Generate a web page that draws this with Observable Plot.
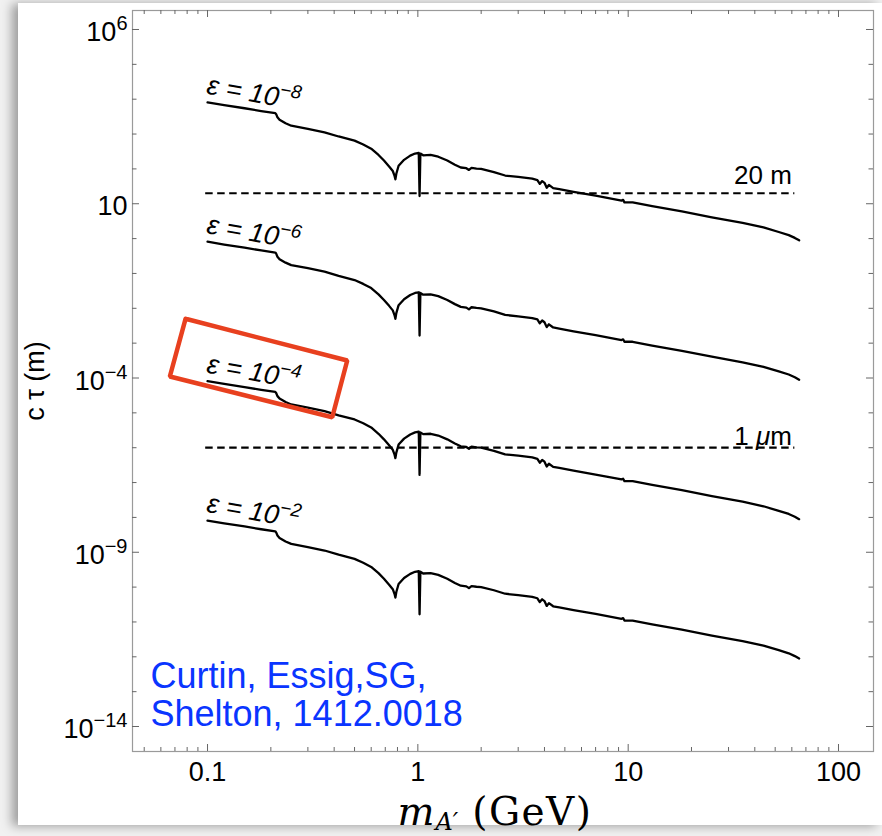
<!DOCTYPE html>
<html><head><meta charset="utf-8">
<script src="https://cdn.jsdelivr.net/npm/d3@7"></script>
<script src="https://cdn.jsdelivr.net/npm/@observablehq/plot@0.6"></script>
<style>
html,body{margin:0;padding:0;}
body{width:882px;height:836px;position:relative;overflow:hidden;background:#f1f1f1;}
#panel{position:absolute;left:18px;top:3px;width:864px;height:822px;background:#fff;box-shadow:-6px 1px 10px rgba(0,0,0,0.35);}
#chart{position:absolute;left:0;top:0;}
</style></head><body>
<div id="panel"></div><div id="chart"></div>
<script>
// ---- data ----
const massGeV = [0.1,0.12,0.15,0.18,0.21,0.212,0.215,0.22,0.235,0.25,0.3,0.36,0.42,0.5,0.55,0.6,0.65,0.69,0.73,0.76,0.775,0.782,0.79,0.81,0.86,0.92,0.97,1.01,1.019,1.028,1.06,1.15,1.25,1.38,1.5,1.6,1.7,1.75,1.8,1.9,2.0,2.3,2.6,3.0,3.5,3.7,3.8,3.9,4.0,4.1,4.2,4.4,4.7,5.5,7,9.3,9.46,9.6,10.5,13,18,25,35,44,52,58,62,65];
const log10CtauEps1e8 = [3.91,3.83,3.74,3.66,3.60,3.57,3.48,3.41,3.31,3.24,3.15,3.05,2.93,2.81,2.70,2.58,2.40,2.24,2.07,1.94,1.80,1.70,1.86,2.09,2.26,2.38,2.44,2.46,1.22,2.44,2.39,2.40,2.35,2.24,2.12,2.04,2.02,1.97,2.03,2.01,2.00,1.91,1.81,1.77,1.72,1.68,1.57,1.65,1.60,1.46,1.54,1.45,1.42,1.34,1.23,1.09,1.11,1.04,1.04,0.93,0.78,0.61,0.45,0.32,0.19,0.10,0.02,-0.05];
const log10CtauEps1e6 = [-0.09,-0.17,-0.26,-0.34,-0.40,-0.43,-0.52,-0.59,-0.69,-0.76,-0.85,-0.95,-1.07,-1.19,-1.30,-1.42,-1.60,-1.76,-1.93,-2.06,-2.20,-2.30,-2.14,-1.91,-1.74,-1.62,-1.56,-1.54,-2.78,-1.56,-1.61,-1.60,-1.65,-1.76,-1.88,-1.96,-1.98,-2.03,-1.97,-1.99,-2.00,-2.09,-2.19,-2.23,-2.28,-2.32,-2.43,-2.35,-2.40,-2.54,-2.46,-2.55,-2.58,-2.66,-2.77,-2.91,-2.89,-2.96,-2.96,-3.07,-3.22,-3.39,-3.55,-3.68,-3.81,-3.90,-3.98,-4.05];
const log10CtauEps1e4 = [-4.09,-4.17,-4.26,-4.34,-4.40,-4.43,-4.52,-4.59,-4.69,-4.76,-4.85,-4.95,-5.07,-5.19,-5.30,-5.42,-5.60,-5.76,-5.93,-6.06,-6.20,-6.30,-6.14,-5.91,-5.74,-5.62,-5.56,-5.54,-6.78,-5.56,-5.61,-5.60,-5.65,-5.76,-5.88,-5.96,-5.98,-6.03,-5.97,-5.99,-6.00,-6.09,-6.19,-6.23,-6.28,-6.32,-6.43,-6.35,-6.40,-6.54,-6.46,-6.55,-6.58,-6.66,-6.77,-6.91,-6.89,-6.96,-6.96,-7.07,-7.22,-7.39,-7.55,-7.68,-7.81,-7.90,-7.98,-8.05];
const log10CtauEps1e2 = [-8.09,-8.17,-8.26,-8.34,-8.40,-8.43,-8.52,-8.59,-8.69,-8.76,-8.85,-8.95,-9.07,-9.19,-9.30,-9.42,-9.60,-9.76,-9.93,-10.06,-10.20,-10.30,-10.14,-9.91,-9.74,-9.62,-9.56,-9.54,-10.78,-9.56,-9.61,-9.60,-9.65,-9.76,-9.88,-9.96,-9.98,-10.03,-9.97,-9.99,-10.00,-10.09,-10.19,-10.23,-10.28,-10.32,-10.43,-10.35,-10.40,-10.54,-10.46,-10.55,-10.58,-10.66,-10.77,-10.91,-10.89,-10.96,-10.96,-11.07,-11.22,-11.39,-11.55,-11.68,-11.81,-11.90,-11.98,-12.05];

const epsLabels = ["ε = 10^−8", "ε = 10^−6", "ε = 10^−4", "ε = 10^−2"];
const epsLabelMass = [0.098, 0.098, 0.098, 0.098];
const epsLabelLog10Ctau = [4.16, 0.16, -3.84, -7.84];

const refLineValues = [20, 1e-6];
const refLineLabels = ["20 m", "1 μm"];
const refLineMassRange = [0.098, 62];

const xTickLabelValues = [0.1, 1, 10, 100];
const xMinorTickValues = [0.05,0.06,0.07,0.08,0.09,0.2,0.3,0.4,0.5,0.6,0.7,0.8,0.9,2,3,4,5,6,7,8,9,20,30,40,50,60,70,80,90];
const yTickLabelValues = [1e6, 10, 1e-4, 1e-9, 1e-14];
const yTickLabelTexts = ["10^6", "10", "10^−4", "10^−9", "10^−14"];
const yMinorTickExps = [5,4,3,2,0,-1,-2,-3,-5,-6,-7,-8,-10,-11,-12,-13];

const highlightBoxMass = [0.0786, 0.4616, 0.3917, 0.0662, 0.0786];
const highlightBoxLog10Ctau = [-2.301, -3.498, -5.125, -3.957, -2.301];

const citation = "Curtin, Essig,SG,\nShelton, 1412.0018";
const yTitle = "c τ (m)";

// ---- build tables ----
const curves = [
  ["1e-8", log10CtauEps1e8], ["1e-6", log10CtauEps1e6],
  ["1e-4", log10CtauEps1e4], ["1e-2", log10CtauEps1e2]
].flatMap(([eps, arr]) => massGeV.map((m, i) => ({eps, m, ctau: 10 ** arr[i]})));
const epsLabelData = epsLabels.map((t, i) => ({t, m: epsLabelMass[i], ctau: 10 ** epsLabelLog10Ctau[i]}));
const refLines = refLineValues.map((v, i) => ({v, label: refLineLabels[i]}));
const boxData = highlightBoxMass.map((m, i) => ({m, ctau: 10 ** highlightBoxLog10Ctau[i]}));
const yMinor = yMinorTickExps.map(e => 10 ** e);

const FW = 741, FH = 741;
const tickColor = "#666";

const chart = Plot.plot({
  width: 882, height: 836,
  marginLeft: 132, marginRight: 9, marginTop: 10, marginBottom: 85,
  x: {type: "log", domain: [0.04398, 146.7], axis: null},
  y: {type: "log", domain: [10 ** -14.717, 10 ** 6.545], axis: null},
  style: {background: "none", fontFamily: "'Liberation Sans', Arial, sans-serif", color: "black", overflow: "visible"},
  marks: [
    Plot.frame({stroke: "#9a9a9a", strokeWidth: 1.2}),
    Plot.tickY(yTickLabelValues, {y: d => d, stroke: tickColor, insetRight: FW - 7}),
    Plot.tickY(yMinor, {y: d => d, stroke: tickColor, insetRight: FW - 4.5}),
    Plot.tickY(yTickLabelValues, {y: d => d, stroke: tickColor, insetLeft: FW - 7}),
    Plot.tickY(yMinor, {y: d => d, stroke: tickColor, insetLeft: FW - 4.5}),
    Plot.tickX(xTickLabelValues, {x: d => d, stroke: tickColor, insetTop: FH - 7}),
    Plot.tickX(xMinorTickValues, {x: d => d, stroke: tickColor, insetTop: FH - 4}),
    Plot.tickX(xTickLabelValues, {x: d => d, stroke: tickColor, insetBottom: FH - 7}),
    Plot.tickX(xMinorTickValues, {x: d => d, stroke: tickColor, insetBottom: FH - 4}),
    Plot.text(yTickLabelValues, {y: d => d, text: (d, i) => yTickLabelTexts[i], frameAnchor: "left", textAnchor: "end", dx: -5, dy: 3, fontSize: 27, ariaDescription: "y-tick-labels"}),
    Plot.text(xTickLabelValues, {x: d => d, text: d => String(d), frameAnchor: "bottom", lineAnchor: "bottom", dy: 29, fontSize: 27}),
    Plot.ruleY(refLines, {y: "v", x1: refLineMassRange[0], x2: refLineMassRange[1], stroke: "black", strokeWidth: 2.2, strokeDasharray: "7.5,4.5"}),
    Plot.text(refLines.slice(0, 1), {x: refLineMassRange[1], y: "v", text: "label", textAnchor: "end", lineAnchor: "bottom", dx: -3, dy: -9, fontSize: 26}),
    Plot.text(refLines.slice(1, 2), {x: refLineMassRange[1], y: "v", text: "label", textAnchor: "end", lineAnchor: "bottom", dx: -3, dy: -3, fontSize: 26, ariaDescription: "mu-label"}),
    Plot.line(curves, {x: "m", y: "ctau", z: "eps", stroke: "black", strokeWidth: 2.3}),
    Plot.text(epsLabelData, {x: "m", y: "ctau", text: "t", rotate: 10, textAnchor: "start", lineAnchor: "bottom", fontSize: 27, fontStyle: "italic", ariaDescription: "eps-labels"}),
    Plot.line(boxData, {x: "m", y: "ctau", stroke: "#e8401f", strokeWidth: 4.5, strokeLinejoin: "miter"}),
    Plot.text([citation], {text: d => d, frameAnchor: "bottom-left", dx: 18, dy: -26, textAnchor: "start", lineAnchor: "bottom", lineHeight: 1.055, fontSize: 36, fill: "#0a35ff"}),
    Plot.text([yTitle], {text: d => d, frameAnchor: "left", rotate: -90, dx: -89, textAnchor: "middle", lineAnchor: "bottom", fontSize: 27}),
    Plot.text(["m A′ (GeV)"], {text: d => d, frameAnchor: "bottom", dx: -8, dy: 73, textAnchor: "middle", lineAnchor: "bottom", fontSize: 39, ariaDescription: "x-title"})
  ]
});
document.getElementById("chart").appendChild(chart);

// ---- text post-processing (superscripts etc.) ----
const svg = d3.select(chart);
function addSup(selector, supSize, rise) {
  svg.selectAll(selector).each(function() {
    const t = this.textContent; const i = t.indexOf("^");
    if (i < 0) return;
    const s = d3.select(this); s.text(null);
    s.append("tspan").text(t.slice(0, i));
    s.append("tspan").attr("dy", -rise).attr("font-size", supSize).text(t.slice(i + 1));
  });
}
addSup('g[aria-description="y-tick-labels"] text', 20, 11);
addSup('g[aria-description="eps-labels"] text', 19, 11);
svg.selectAll('g[aria-description="mu-label"] text').each(function() {
  const s = d3.select(this); s.text(null);
  s.append("tspan").text("1 ");
  s.append("tspan").attr("font-style", "italic").text("μ");
  s.append("tspan").text("m");
});
svg.selectAll('g[aria-description="x-title"] text').each(function() {
  const s = d3.select(this); s.text(null);
  s.attr("font-family", "'DejaVu Serif', 'Liberation Serif', serif");
  s.append("tspan").attr("font-style", "italic").attr("letter-spacing", 1).text("m");
  s.append("tspan").attr("font-style", "italic").attr("font-size", 24).attr("dy", 5).text("A′");
  s.append("tspan").attr("dy", -5).attr("letter-spacing", 1.5).text(" (GeV)");
});
</script></body></html>
